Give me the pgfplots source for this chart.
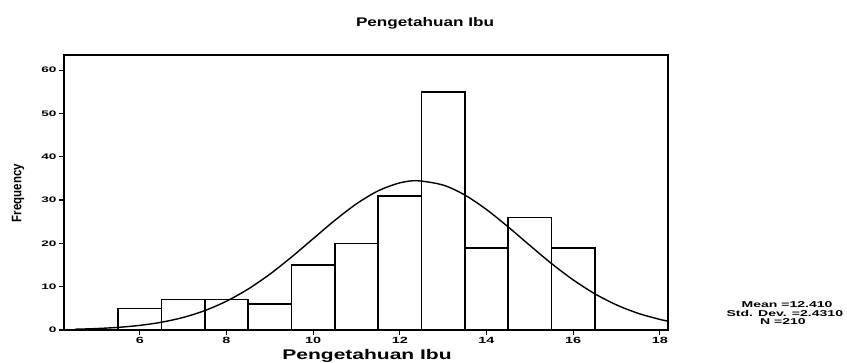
\documentclass[border=0pt]{standalone}
\usepackage{fontspec}
\setmainfont{Liberation Sans}
\usepackage{graphicx}
\usepackage{pgfplots}
\pgfplotsset{compat=1.18}
\begin{document}
\begin{tikzpicture}[x=1pt,y=1pt]
\path[use as bounding box] (0,0) rectangle (847,363);
\begin{axis}[at={(64pt,33pt)}, anchor=south west, scale only axis,
  width=604pt, height=275pt,
  xmin=4.25, xmax=18.19, ymin=0, ymax=63.5,
  xtick={6,8,...,18}, ytick={0,10,...,60},
  xtick pos=bottom, ytick pos=left,
  tick align=outside, major tick length=5pt,
  tick style={line width=1.2pt, black},
  axis line style={line width=1.3pt},
  xticklabel={\scalebox{1.6}[1]{\fontsize{9}{9}\selectfont\bfseries\pgfmathprintnumber[assume math mode=true]{\tick}}},
  yticklabel={\scalebox{1.7}[1]{\fontsize{8}{8}\selectfont\bfseries\pgfmathprintnumber[assume math mode=true]{\tick}}},
  xticklabel style={yshift=1pt},
  yticklabel style={xshift=1pt},
  clip=false]
\addplot[ybar interval, fill=white, draw=black, line width=1.6pt] coordinates {
 (5.5,5) (6.5,7) (7.5,7) (8.5,6) (9.5,15) (10.5,20) (11.5,31) (12.5,55) (13.5,19) (14.5,26) (15.5,19) (16.5,0)};
\addplot[black, line width=1.4pt, smooth] coordinates {
 (4.5,0.173) (5,0.331) (5.5,0.607) (6,1.066) (6.5,1.794) (7,2.897) (7.5,4.480) (8,6.650)
 (8.5,9.453) (9,12.88) (9.5,16.83) (10,21.08) (10.5,25.31) (11,29.13) (11.5,32.13) (12,33.97)
 (12.41,34.46) (13,33.46) (13.5,31.17) (14,27.82) (14.5,23.81) (15,19.54) (15.5,15.36)
 (16,11.58) (16.5,8.37) (17,5.80) (17.5,3.85) (18,2.45) (18.19,2.05)};
\end{axis}
\node at (425,340) {\scalebox{1.37}[1]{\fontsize{12.5}{12.5}\selectfont\bfseries Pengetahuan Ibu}};
\node at (367,7) {\scalebox{1.5}[1]{\fontsize{14}{14}\selectfont\bfseries Pengetahuan Ibu}};
\node[rotate=90] at (18,170) {\scalebox{1}[1.2]{\fontsize{11.5}{11.5}\selectfont\bfseries Frequency}};
\node at (787,58) {\scalebox{1.65}[1]{\fontsize{8.5}{8.5}\selectfont\bfseries Mean =12.410}};
\node[anchor=west] at (723,50) {\scalebox{1.65}[1]{\fontsize{8.5}{8.5}\selectfont\bfseries Std. Dev. =2.4310}};
\node at (783,41) {\scalebox{1.65}[1]{\fontsize{8.5}{8.5}\selectfont\bfseries N =210}};
\end{tikzpicture}
\end{document}
